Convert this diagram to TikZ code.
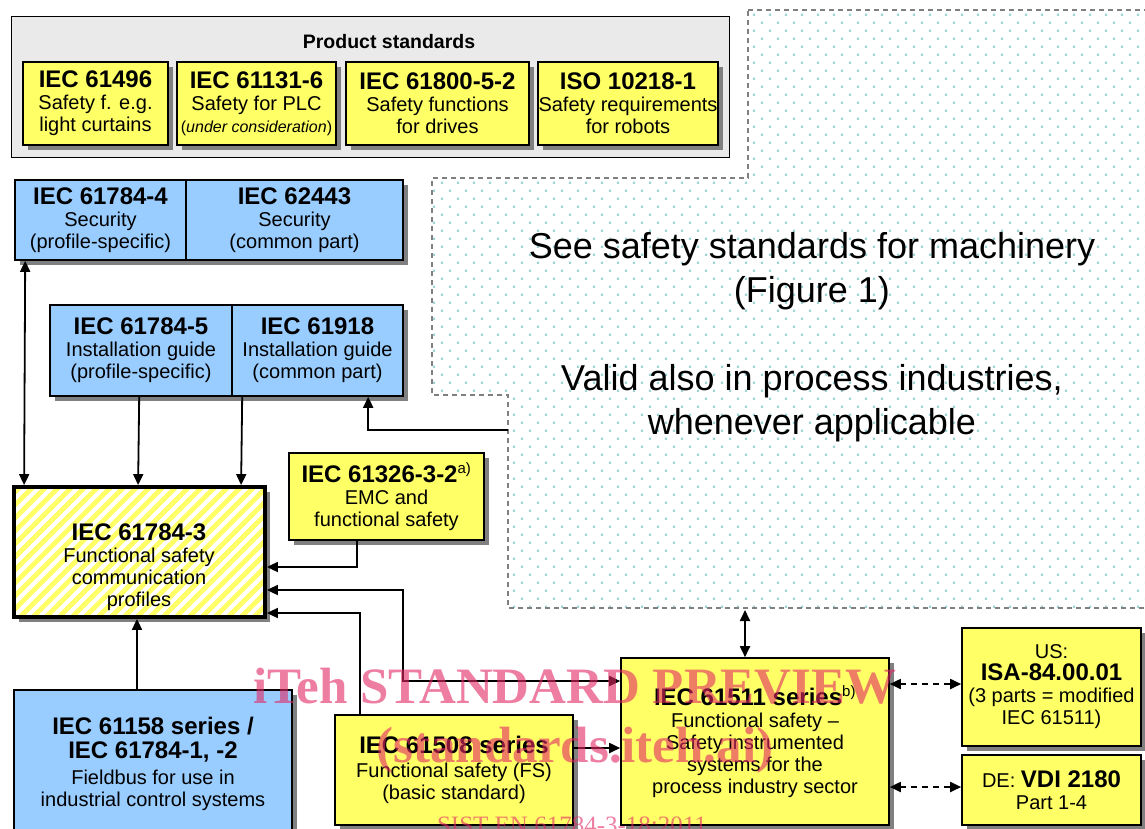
\documentclass[tikz,border=0pt]{standalone}
\usepackage{fontspec}
\setmainfont{Liberation Sans}
\newfontfamily\wmfont{Liberation Serif}
\usetikzlibrary{arrows.meta,shadows,calc}
\definecolor{byellow}{RGB}{255,255,102}
\definecolor{bblue}{RGB}{153,204,255}
\definecolor{pgray}{RGB}{234,234,234}
\definecolor{shgray}{RGB}{128,128,128}
\definecolor{dotc}{RGB}{160,212,212}
\definecolor{dashc}{RGB}{128,128,128}
\definecolor{wmpink}{RGB}{225,40,100}
\newcommand\tsz{\fontsize{24}{22}\selectfont\bfseries}
\newcommand\supx[1]{\textsuperscript{\mdseries\fontsize{15}{15}\selectfont #1}}
\begin{document}
\begin{tikzpicture}[x=1pt,y=-1pt,
  box/.style={draw=black, line width=1.6pt, inner sep=0pt, align=center,
     font=\fontsize{20}{22}\selectfont,
     drop shadow={shadow xshift=4.5pt, shadow yshift=-4.5pt, fill=shgray, opacity=1}},
  ybox/.style={box, fill=byellow},
  bbox/.style={box, fill=bblue},
  txt/.style={align=center, inner sep=0pt, font=\fontsize{20}{22}\selectfont},
  arr/.style={line width=1.8pt, -{Triangle[length=11pt,width=10pt]}},
  darr/.style={line width=1.8pt, {Triangle[length=11pt,width=10pt]}-{Triangle[length=11pt,width=10pt]}},
  dasharr/.style={darr, dash pattern=on 6pt off 5pt},
  wm/.style={text=wmpink, opacity=0.6, anchor=base, inner sep=0pt},
]
\useasboundingbox (0,0) rectangle (1145,828);
\clip (0,0) rectangle (1145,828);

% ---- dotted region (machinery standards)
\begin{scope}
\clip (748,10) -- (1160,10) -- (1160,608) -- (508,608) -- (508,395) -- (432,395) -- (432,178) -- (748,178) -- cycle;
\fill[dotc] \foreach \i in {0,...,46} { \foreach \j in {0,...,38} {
  (424.8+16*\i, 5.5+16*\j) rectangle ++(2.4,2.4)
  (416.8+16*\i, 13.5+16*\j) rectangle ++(2.4,2.4) } };
\end{scope}
\draw[dashc, line width=1.1pt, dash pattern=on 5pt off 4pt]
  (748,10) -- (1160,10) -- (1160,608) -- (508,608) -- (508,395) -- (432,395) -- (432,178) -- (748,178) -- cycle;
\node[align=center, inner sep=0pt, font=\fontsize{36}{44}\selectfont] (see) at (812,337)
  {See safety standards for machinery\\(Figure 1)\\[44pt]Valid also in process industries,\\whenever applicable};
\coordinate (mL) at (508,430);
\coordinate (mB) at (745,610);

% ---- product standards
\node[draw=black, line width=1.3pt, fill=pgray, minimum width=718pt, minimum height=141pt, inner sep=0pt] (prod) at (370.6,87.2) {};
\node[inner sep=0pt] (prodt) at (389,42) {\fontsize{19.5}{22}\selectfont\bfseries Product standards};
\node[ybox, minimum width=145pt, minimum height=83pt] (p1) at (95.5,103.5)
  {{\tsz IEC 61496}\\Safety f. e.g.\\light curtains};
\node[ybox, minimum width=159pt, minimum height=83pt] (p2) at (256.5,103.5)
  {{\tsz IEC 61131-6}\\Safety for PLC\\{\fontsize{16}{22}\selectfont(\textit{under consideration})}};
\node[ybox, minimum width=183pt, minimum height=83pt] (p3) at (437.5,103.5)
  {{\tsz IEC 61800-5-2}\\Safety functions\\for drives};
\node[ybox, minimum width=180pt, minimum height=83pt] (p4) at (628,103.5)
  {{\tsz ISO 10218-1}\\Safety requirements\\for robots};

% ---- blue boxes
\node[bbox, minimum width=171pt, minimum height=80pt] (s1) at (100.5,220)
  {{\tsz IEC 61784-4}\\Security\\(profile-specific)};
\node[bbox, minimum width=217pt, minimum height=80pt] (s2) at (294.5,220)
  {{\tsz IEC 62443}\\Security\\(common part)};
\node[bbox, minimum width=182pt, minimum height=91pt] (g1) at (141,350.5)
  {{\tsz IEC 61784-5}\\Installation guide\\(profile-specific)};
\node[bbox, minimum width=171pt, minimum height=91pt] (g2) at (317.5,350.5)
  {{\tsz IEC 61918}\\Installation guide\\(common part)};

% ---- hatched box
\node[fill=white, inner sep=0pt, minimum width=251pt, minimum height=130pt,
  drop shadow={shadow xshift=5pt, shadow yshift=-5pt, fill=shgray, opacity=1},
  path picture={\foreach \k in {0,13,...,400}
    \draw[byellow, line width=4.8pt] ($(path picture bounding box.south west)+(\k pt-150pt,0pt)$) -- +(160pt,160pt);},
  draw=black, line width=3.8pt] (hatch) at (139.5,552) {};
\node[txt] (hatcht) at (139,567)
  {{\tsz IEC 61784-3}\\Functional safety\\communication\\profiles};

% ---- yellow boxes
\node[ybox, minimum width=195pt, minimum height=87pt] (e1) at (386.5,496.5)
  {{\tsz IEC 61326-3-2\supx{a)}}\\EMC and\\functional safety};
\node[bbox, minimum width=278pt, minimum height=150pt] (fb) at (153,765) {};
\node[txt] (fbt) at (153,764)
  {{\tsz IEC 61158 series /}\\[2pt]{\tsz IEC 61784-1, -2}\\[4pt]Fieldbus for use in\\industrial control systems};
\node[ybox, minimum width=238pt, minimum height=110pt] (fs) at (454,770)
  {{\tsz IEC 61508 series}\\[2pt]Functional safety (FS)\\(basic standard)};
\node[ybox, minimum width=268pt, minimum height=167pt] (pi) at (755,741.5)
  {{\tsz IEC 61511 series\supx{b)}}\\Functional safety --\\Safety instrumented\\systems for the\\process industry sector};
\node[ybox, minimum width=179pt, minimum height=118pt] (us) at (1051.5,687)
  {US:\\{\tsz ISA-84.00.01}\\(3 parts = modified\\IEC 61511)};
\node[ybox, minimum width=179pt, minimum height=70pt] (de) at (1051.5,790)
  {DE: {\tsz VDI 2180}\\Part 1-4};

% ---- connectors
\draw[darr] ([xshift=11pt]s1.south west) -- ([xshift=12pt]hatch.north west);
\draw[arr] ([xshift=90pt]g1.south west) -- ([xshift=126pt]hatch.north west);
\draw[arr] ([xshift=11pt]g2.south west) -- ([xshift=229pt]hatch.north west);
\draw[arr] (mL) -| ([xshift=137pt]g2.south west);
\draw[arr] ([xshift=69pt]e1.south west) |- ([yshift=-15pt]hatch.east);
\coordinate (k1) at (403,681);
\draw[darr] ([yshift=-38pt]hatch.east) -| (k1) -- ([yshift=60.5pt]pi.west);
\draw[arr] ([xshift=26pt]fs.north west) |- ([yshift=-61pt]hatch.east);
\coordinate (k2) at ([yshift=22pt]fs.east);
\draw[arr] (k2) -- (k2 -| pi.west);
\draw[arr] ([xshift=-16pt]fb.north) -- ([xshift=-2.5pt]hatch.south);
\draw[darr] (mB) -- (mB |- pi.north);
\coordinate (k4) at ([yshift=3pt]us.west);
\draw[dasharr] (k4 -| pi.east) -- (k4);
\coordinate (k5) at ([yshift=3pt]de.west);
\draw[dasharr] (k5 -| pi.east) -- (k5);

% ---- watermark
\node[wm, font=\wmfont\bfseries\fontsize{51}{51}\selectfont] (wm1) at (575,703) {iTeh STANDARD PREVIEW};
\node[wm, font=\wmfont\bfseries\fontsize{51}{51}\selectfont] (wm2) at (575,762) {(standards.iteh.ai)};
\node[wm, font=\wmfont\fontsize{25}{25}\selectfont] (wm3) at (572,833.5) {SIST EN 61784-3-18:2011};
\end{tikzpicture}
\end{document}
